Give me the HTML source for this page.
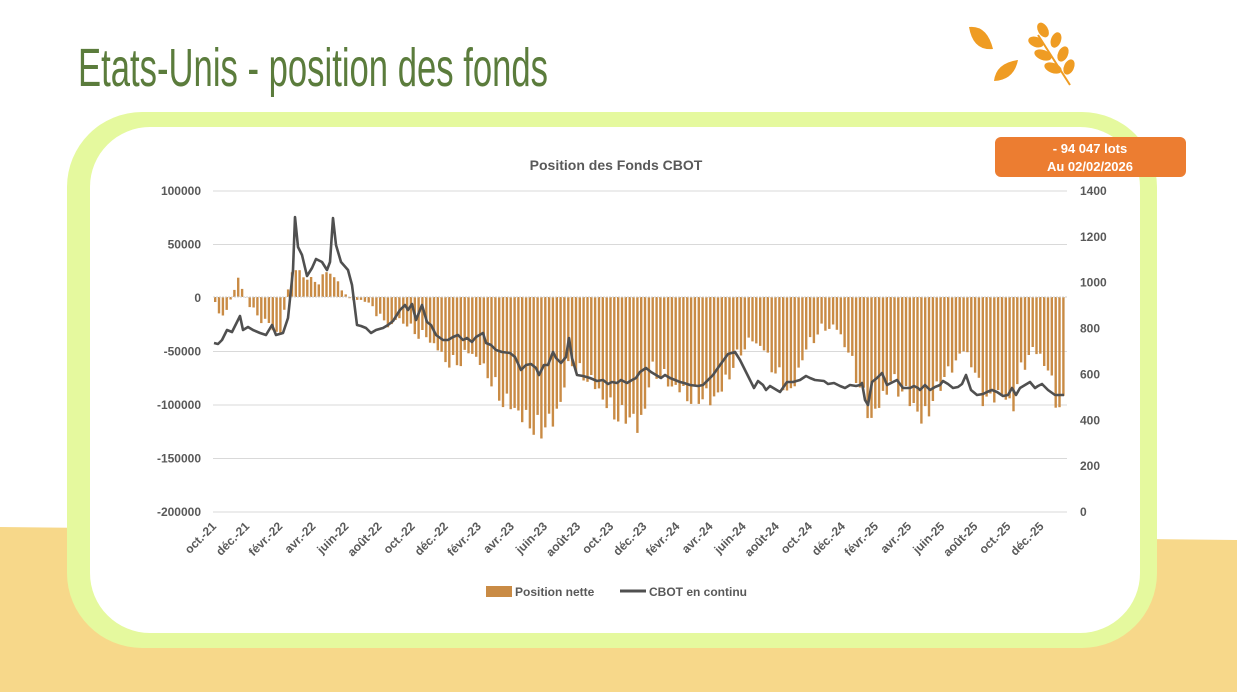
<!DOCTYPE html>
<html><head><meta charset="utf-8"><style>
html,body{margin:0;padding:0;width:1237px;height:692px;overflow:hidden;background:#fff;font-family:"Liberation Sans",sans-serif}
</style></head><body>
<svg id="s" width="1237" height="692" xmlns="http://www.w3.org/2000/svg" style="position:absolute;left:0;top:0">
<polygon points="0,527 1237,540 1237,692 0,692" fill="#f7d88a"/>
<rect x="67" y="112" width="1090" height="536" rx="75" fill="#e5f99e"/>
<rect x="90" y="127" width="1050" height="506" rx="60" fill="#fff"/>
<text x="78" y="86" font-size="54" fill="#5b7c3c" font-family="Liberation Sans Narrow,Liberation Sans,sans-serif" textLength="470" lengthAdjust="spacingAndGlyphs">Etats-Unis - position des fonds</text>
<g fill="#ef9c23">
<path d="M969,27 q18,-2 24,22 q-20,2 -24,-22z"/>
<path d="M994,81 q2,-18 24,-21 q-4,20 -24,21z"/>
<line x1="1038" y1="35" x2="1070" y2="85" stroke="#ef9c23" stroke-width="2"/>
<ellipse cx="1043" cy="30" rx="5" ry="8" transform="rotate(-30 1043 30)"/>
<ellipse cx="1036" cy="42" rx="8" ry="5" transform="rotate(20 1036 42)"/>
<ellipse cx="1056" cy="40" rx="5" ry="8" transform="rotate(20 1056 40)"/>
<ellipse cx="1043" cy="55" rx="9" ry="5" transform="rotate(20 1043 55)"/>
<ellipse cx="1063" cy="54" rx="5" ry="8" transform="rotate(25 1063 54)"/>
<ellipse cx="1053" cy="68" rx="9" ry="5" transform="rotate(20 1053 68)"/>
<ellipse cx="1069" cy="67" rx="5" ry="8" transform="rotate(25 1069 67)"/>
</g>
<rect x="995" y="137" width="191" height="40" rx="6" fill="#ec7d31"/>
<text x="1090" y="153" font-size="13" font-weight="bold" fill="#fff" text-anchor="middle">-   94 047 lots</text>
<text x="1090" y="171" font-size="13" font-weight="bold" fill="#fff" text-anchor="middle">Au 02/02/2026</text>
<text x="616" y="170" font-size="14" font-weight="bold" fill="#595959" text-anchor="middle">Position des Fonds CBOT</text>
<g id="grid" stroke="#d9d9d9" stroke-width="1"></g>
<g id="bars" fill="#c98b45"></g>
<g id="lab" font-size="12" font-weight="bold" fill="#595959"></g>
<polyline id="ln" fill="none" stroke="#505050" stroke-width="2.6" stroke-linejoin="round"/>
<rect x="486" y="586" width="26" height="11" fill="#c98b45"/>
<text x="515" y="596" font-size="12" font-weight="bold" fill="#595959">Position nette</text>
<line x1="620" y1="591" x2="646" y2="591" stroke="#505050" stroke-width="3"/>
<text x="649" y="596" font-size="12" font-weight="bold" fill="#595959">CBOT en continu</text>
</svg>
<script>
var NS="http://www.w3.org/2000/svg";
function el(p,t,a,txt){var e=document.createElementNS(NS,t);for(var k in a)e.setAttribute(k,a[k]);if(txt)e.textContent=txt;document.getElementById(p).appendChild(e);return e;}
var L=['100000','50000','0','-50000','-100000','-150000','-200000'],R=['1400','1200','1000','800','600','400','200','0'];
for(var i=0;i<7;i++){var y=191+i*53.5;if(i!=2)el('grid','line',{x1:213,x2:1067,y1:y,y2:y});el('lab','text',{x:201,y:y+4,'text-anchor':'end'},L[i]);}
for(var i=0;i<8;i++){var y=191+i*45.86;el('lab','text',{x:1080,y:y+4},R[i]);}
var M=['oct.-21','déc.-21','févr.-22','avr.-22','juin-22','août-22','oct.-22','déc.-22','févr.-23','avr.-23','juin-23','août-23','oct.-23','déc.-23','févr.-24','avr.-24','juin-24','août-24','oct.-24','déc.-24','févr.-25','avr.-25','juin-25','août-25','oct.-25','déc.-25'];
for(var i=0;i<26;i++){var x=217+i*33.1,y=527;el('lab','text',{x:x,y:y,'text-anchor':'end',transform:'rotate(-45 '+x+' '+y+')'},M[i]);}
var B=[214,302,218,309,222,319,226,312,230,297,235,285,238,280,242,292,246,300,250,310,255,315,260,318,265,322,270,328,275,330,280,335,285,300,290,272,300,272,310,282,320,279,330,270,340,290,350,300,360,300,370,304,380,320,390,325,400,318,410,330,420,335,430,340,440,355,450,365,460,360,470,350,480,365,490,380,500,400,510,405,520,415,530,425,540,432,545,420,550,425,560,400,565,375,570,360,580,375,590,380,600,395,610,410,620,418,630,415,638,430,645,400,650,370,660,375,670,385,680,390,690,400,700,395,710,400,720,390,730,370,740,350,750,340,760,345,770,365,780,380,790,395,800,360,810,340,820,330,830,325,840,335,850,360,860,390,870,420,880,400,890,380,900,390,910,400,920,420,930,405,940,380,950,370,960,350,970,360,980,395,990,400,1000,390,1010,410,1020,370,1030,350,1040,355,1050,380,1058,410,1066,400];
function interp(A,x){for(var i=0;i<A.length-2;i+=2){if(x<=A[i+2]){var t=(x-A[i])/(A[i+2]-A[i]);return A[i+1]+t*(A[i+3]-A[i+1]);}}return A[A.length-1];}
var n=222,w=852/n;
for(var i=0;i<n;i++){var x=214+i*w;var v=interp(B,x);var d=(v-297);d+=d*0.08*Math.sin(i*2.3)+ (Math.abs(d)>10?4*Math.sin(i*1.7):0);var y=297+d;
el('bars','rect',{x:x.toFixed(1),y:Math.min(y,297).toFixed(1),width:(w*0.62).toFixed(1),height:Math.abs(y-297).toFixed(1)});}
var P=[214,343,218,344,222,340,227,330,232,332,240,316,243,330,248,327,253,330,260,333,266,335,272,325,276,335,283,333,288,318,293,270,295,217,298,247,302,255,307,276,312,268,316,259,322,262,327,270,330,262,333,218,336,245,341,262,348,270,352,285,357,325,361,326,366,328,371,333,376,330,383,328,388,325,393,321,400,310,405,305,408,310,412,304,416,320,422,305,427,322,431,325,436,335,443,340,448,340,453,337,458,335,463,340,467,338,472,342,476,337,483,333,486,343,491,345,496,350,502,352,510,353,515,357,521,370,526,365,531,364,536,368,539,375,544,365,548,365,553,352,556,358,561,363,566,357,569,338,572,358,577,375,583,376,590,378,597,381,603,380,608,384,612,382,617,383,621,380,627,383,632,380,636,378,640,372,646,368,651,372,656,375,661,378,665,375,670,378,680,382,684,383,690,385,698,386,703,385,705,383,713,375,720,365,728,354,735,352,740,360,745,370,750,380,754,388,758,381,763,385,766,390,770,386,775,389,780,392,787,382,793,382,800,380,806,376,810,378,815,380,824,381,828,384,834,383,840,386,845,388,850,385,856,386,860,385,862,383,865,400,868,405,872,382,877,378,882,373,887,385,893,382,897,380,903,388,910,388,914,386,918,388,920,390,925,385,930,390,935,387,940,385,943,381,948,384,953,388,958,387,962,384,966,375,971,390,977,395,983,394,987,392,992,390,997,392,1003,396,1008,395,1012,388,1016,395,1020,388,1025,385,1030,382,1035,388,1038,386,1042,384,1048,390,1055,395,1060,395,1064,395];
var s='';for(var i=0;i<P.length;i+=2)s+=P[i]+','+P[i+1]+' ';document.getElementById('ln').setAttribute('points',s);
var z=document.createElementNS(NS,'line');z.setAttribute('x1',213);z.setAttribute('x2',1067);z.setAttribute('y1',297);z.setAttribute('y2',297);z.setAttribute('stroke','#d0d0d0');z.setAttribute('stroke-dasharray','2,1');document.getElementById('bars').appendChild(z);
</script>
</body></html>
